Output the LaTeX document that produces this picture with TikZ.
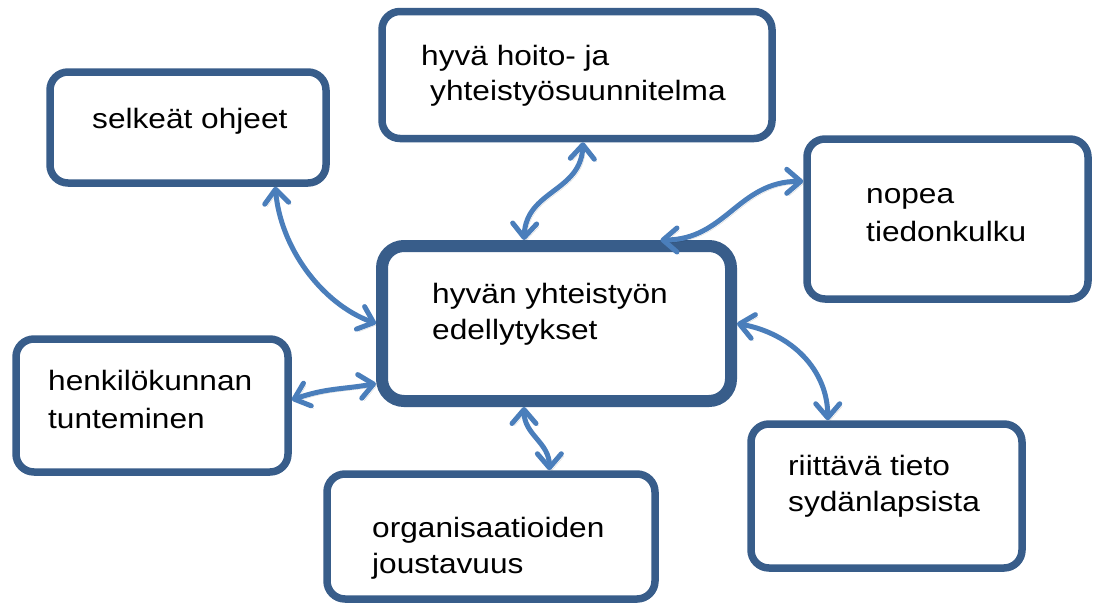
\documentclass[tikz,border=0pt]{standalone}
\usepackage{fontspec}
\setmainfont{Liberation Sans}[FakeStretch=1.13]
\usetikzlibrary{arrows.meta,calc}
\definecolor{boxblue}{HTML}{385D8A}
\definecolor{arrowblue}{HTML}{4A7EBB}
\begin{document}
\begin{tikzpicture}[x=1pt,y=-1pt,
  box/.style={draw=boxblue, line width=7.5pt, fill=white, rounded corners=18pt, inner sep=0pt},
  mainbox/.style={draw=boxblue, line width=12pt, fill=white, rounded corners=22pt, inner sep=0pt},
  label/.style={anchor=base west, inner sep=0pt, font=\fontsize{28}{34}\selectfont},
  link/.style={draw=arrowblue, line width=5pt,
    {Straight Barb[length=14pt,width=24pt,round]}-{Straight Barb[length=14pt,width=24pt,round]},
    preaction={draw=black, opacity=0.15, transform canvas={shift={(2.5pt,-2.5pt)}}}}
]
\useasboundingbox (0,0) rectangle (1093,605);
\fill[white] (0,0) rectangle (1093,605);

% boxes
\node[box, minimum width=276pt, minimum height=111pt] (sel) at (188,127.5) {};
\node[box, minimum width=390pt, minimum height=127pt] (hyv) at (577,75) {};
\node[box, minimum width=281pt, minimum height=160pt] (nop) at (947.5,219) {};
\node[mainbox, minimum width=349pt, minimum height=155pt] (main) at (556.5,323.5) {};
\node[box, minimum width=272pt, minimum height=133pt] (hen) at (152,405.5) {};
\node[box, minimum width=328pt, minimum height=125pt] (org) at (491,536.5) {};
\node[box, minimum width=271pt, minimum height=144pt] (rii) at (886.5,496) {};

% texts
\node[label] (t1) at (92,128) {selkeät ohjeet};
\node[label] (t2a) at (421,65) {hyvä hoito- ja};
\node[label] (t2b) at (430,100) {yhteistyösuunnitelma};
\node[label] (t3a) at (866,203) {nopea};
\node[label] (t3b) at (866,241) {tiedonkulku};
\node[label] (t4a) at (432,303) {hyvän yhteistyön};
\node[label] (t4b) at (432,339) {edellytykset};
\node[label] (t5a) at (48,390) {henkilökunnan};
\node[label] (t5b) at (48,428) {tunteminen};
\node[label] (t6a) at (372,537) {organisaatioiden};
\node[label] (t6b) at (372,573) {joustavuus};
\node[label] (t7a) at (788,475) {riittävä tieto};
\node[label] (t7b) at (788,511) {sydänlapsista};

% connectors
\draw[link] ($(sel.south west)!0.808!(sel.south east)$)
  .. controls +(5,60) and +(-55,-20) .. (main.west);
\draw[link] ($(hyv.south west)!0.515!(hyv.south east)$)
  .. controls +(-2,50) and +(2,-50) .. ($(main.north west)!0.41!(main.north east)$);
\draw[link] ($(nop.north west)!0.275!(nop.south west)$)
  .. controls +(-65,0) and +(65,0) .. ($(main.north west)!0.788!(main.north east)$);
\draw[link] ($(hen.north east)!0.46!(hen.south east)$)
  .. controls +(35,-12) and +(-35,6) .. ($(main.north west)!0.86!(main.south west)$);
\draw[link] ($(main.south west)!0.41!(main.south east)$)
  .. controls +(0,28) and +(0,-28) .. ($(org.north west)!0.674!(org.north east)$);
\draw[link] (main.east)
  .. controls +(55,10) and +(0,-50) .. ($(rii.north west)!0.289!(rii.north east)$);
\end{tikzpicture}
\end{document}
